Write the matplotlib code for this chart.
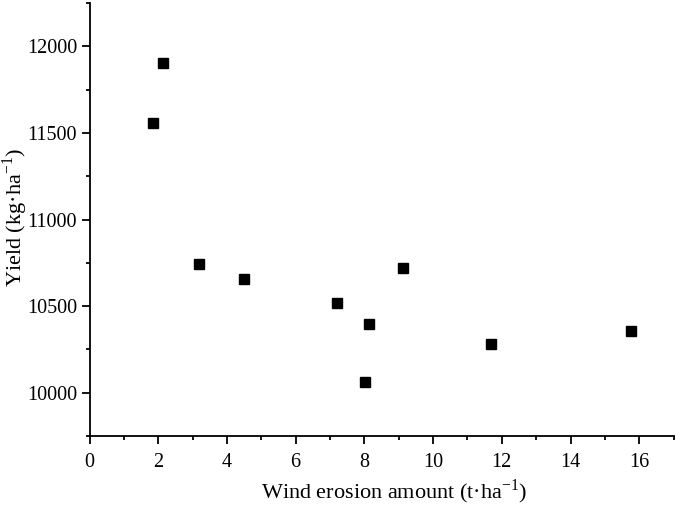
import matplotlib
matplotlib.use("Agg")
from matplotlib import pyplot as plt
from matplotlib.ticker import MultipleLocator

plt.rcParams['font.family'] = ['Liberation Serif', 'DejaVu Serif']
plt.rcParams['mathtext.fontset'] = 'custom'
plt.rcParams['mathtext.rm'] = 'Liberation Serif'

erosion = [1.84, 2.15, 3.19, 4.50, 7.19, 8.03, 8.14, 9.11, 11.69, 15.76]
yield_kg = [11560, 11902, 10743, 10656, 10516, 10060, 10395, 10718, 10280, 10358]

fig = plt.figure(figsize=(6.75, 5.05), dpi=100)
ax = fig.add_axes([0.1326, 0.1366, 0.8654, 0.8574])

ax.plot(erosion, yield_kg, 's', color='black', markersize=6.7, linestyle='none')

ax.set_xlim(0, 17)
ax.set_ylim(9750, 12250)
ax.xaxis.set_major_locator(MultipleLocator(2))
ax.xaxis.set_minor_locator(MultipleLocator(1))
ax.yaxis.set_major_locator(MultipleLocator(500))
ax.yaxis.set_minor_locator(MultipleLocator(250))

ax.spines['top'].set_visible(False)
ax.spines['right'].set_visible(False)
for s in ['left', 'bottom']:
    ax.spines[s].set_linewidth(1.3)

ax.tick_params(which='major', direction='out', length=6, width=1.3, labelsize=14.5)
ax.tick_params(which='minor', direction='out', length=3, width=1.3)
ax.tick_params(axis='x', which='major', pad=6)
ax.tick_params(axis='y', which='major', pad=3)

ax.set_xlabel(r'Wind erosion amount (t·ha$^{\mathregular{-1}}$)', fontsize=16)
ax.set_ylabel(r'Yield (kg·ha$^{\mathregular{-1}}$)', fontsize=16)
ax.xaxis.set_label_coords(0.522, -0.095)
ax.yaxis.set_label_coords(-0.102, 0.505)

fig.savefig('out.png', dpi=100)
